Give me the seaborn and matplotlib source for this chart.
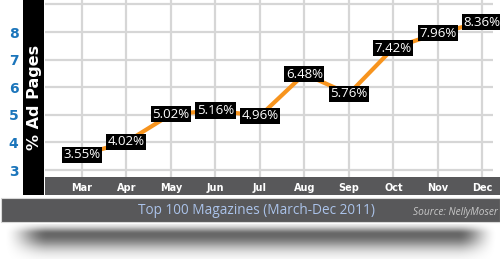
import numpy as np
import pandas as pd
import matplotlib
matplotlib.use("Agg")
import matplotlib.pyplot as plt
from matplotlib.patches import Rectangle
import seaborn as sns

# ---- data ----
months = ["Mar", "Apr", "May", "Jun", "Jul", "Aug", "Sep", "Oct", "Nov", "Dec"]
ad_pages = [3.55, 4.02, 5.02, 5.16, 4.96, 6.48, 5.76, 7.42, 7.96, 8.36]
y_ticks = [3, 4, 5, 6, 7, 8, 9]
y_tick_labels = ["3", "4", "5", "6", "7", "8", ""]
title = "Top 100 Magazines (March-Dec 2011)"
source = "Source: NellyMoser"
y_label = "% Ad Pages"

df = pd.DataFrame({"month": months, "pages": ad_pages})

sns.set_style("white")
plt.rcParams["font.family"] = ["DejaVu Sans"]

W, H = 500, 259
fig = plt.figure(figsize=(W / 100, H / 100), dpi=100)
fig.patch.set_facecolor("white")

def fx(px):
    return px / W

def fy(py):
    return 1 - py / H

BAND = "#58585a"

# main plot area
ax = fig.add_axes([fx(45), fy(177), fx(493) - fx(45), fy(0) - fy(177)])
ax.set_facecolor("white")
sns.lineplot(data=df, x="month", y="pages", ax=ax, color="#f7941e",
             linewidth=3.0, sort=False, zorder=3)
ax.set_xlim(-0.83, 9.24)
ax.set_ylim(2.75, 9.16)
ax.set_yticks(y_ticks)
ax.set_yticklabels(y_tick_labels)
ax.grid(True, color="#d6d6d6", linewidth=1.6, zorder=0)
ax.set_axisbelow(True)
for s in ax.spines.values():
    s.set_visible(False)
ax.set_xlabel("")
ax.set_ylabel("")
ax.tick_params(axis="x", length=0, pad=4, labelsize=7, labelcolor="white")
ax.tick_params(axis="y", length=0, pad=19, labelsize=10, labelcolor="#1b75bb")
for t in ax.get_xticklabels():
    t.set_fontweight("bold")
for t in ax.get_yticklabels():
    t.set_fontweight("bold")

for i, v in enumerate(ad_pages):
    ax.text(i, v, f"{v:.2f}%", ha="center", va="center", color="white",
            fontsize=9.5, family="Open Sans", zorder=5,
            bbox=dict(facecolor="black", edgecolor="none",
                      boxstyle="square,pad=0.12"))

# black y-label bar
fig.patches.append(Rectangle((fx(23), fy(195)), fx(44) - fx(23), fy(0) - fy(195),
                             transform=fig.transFigure, facecolor="black",
                             edgecolor="none", zorder=-1))
fig.text(fx(34), fy(97), y_label, rotation=90, ha="center", va="center",
         color="white", fontsize=11.5, fontweight="bold")

# x-axis band
fig.patches.append(Rectangle((fx(45), fy(195)), fx(500) - fx(45), fy(177) - fy(195),
                             transform=fig.transFigure, facecolor=BAND,
                             edgecolor="none", zorder=-1))
# title band
fig.patches.append(Rectangle((fx(0.5), fy(222)), fx(499.5) - fx(0.5), fy(198) - fy(222),
                             transform=fig.transFigure, facecolor=BAND,
                             edgecolor="#d8d8d8", linewidth=0.8, zorder=-1))
fig.text(fx(257), fy(210), title, ha="center", va="center", color="#abc3ea",
         fontsize=9.8, family="Open Sans")
fig.text(fx(498), fy(212), source, ha="right", va="center", color="#c8c8c8",
         fontsize=7.3, family="Open Sans", style="italic")

# shadow under the chart
sax = fig.add_axes([0, 0, 1, fy(224)], zorder=-2)
sax.set_axis_off()
ny, nx = 40, 500
yy = np.linspace(224, 259, ny)[:, None]
xx = np.arange(nx)[None, :]
d = yy - 234
prof_y = np.where(d < 0, np.exp(-(d / 7.0) ** 2), np.exp(-(d / 15.0) ** 2))
left = np.clip((xx - 3) / 45.0, 0, 1)
right = np.clip((497 - xx) / 40.0, 0, 1)
prof_x = (left * left * (3 - 2 * left)) * (right * right * (3 - 2 * right))
alpha = 0.6 * prof_y * prof_x
img = np.zeros((ny, nx, 4))
img[..., 3] = alpha
sax.imshow(img, aspect="auto", extent=[0, 1, 0, 1], interpolation="bilinear")
sax.set_xlim(0, 1)
sax.set_ylim(0, 1)

fig.savefig("out.png", dpi=100, facecolor="white")
